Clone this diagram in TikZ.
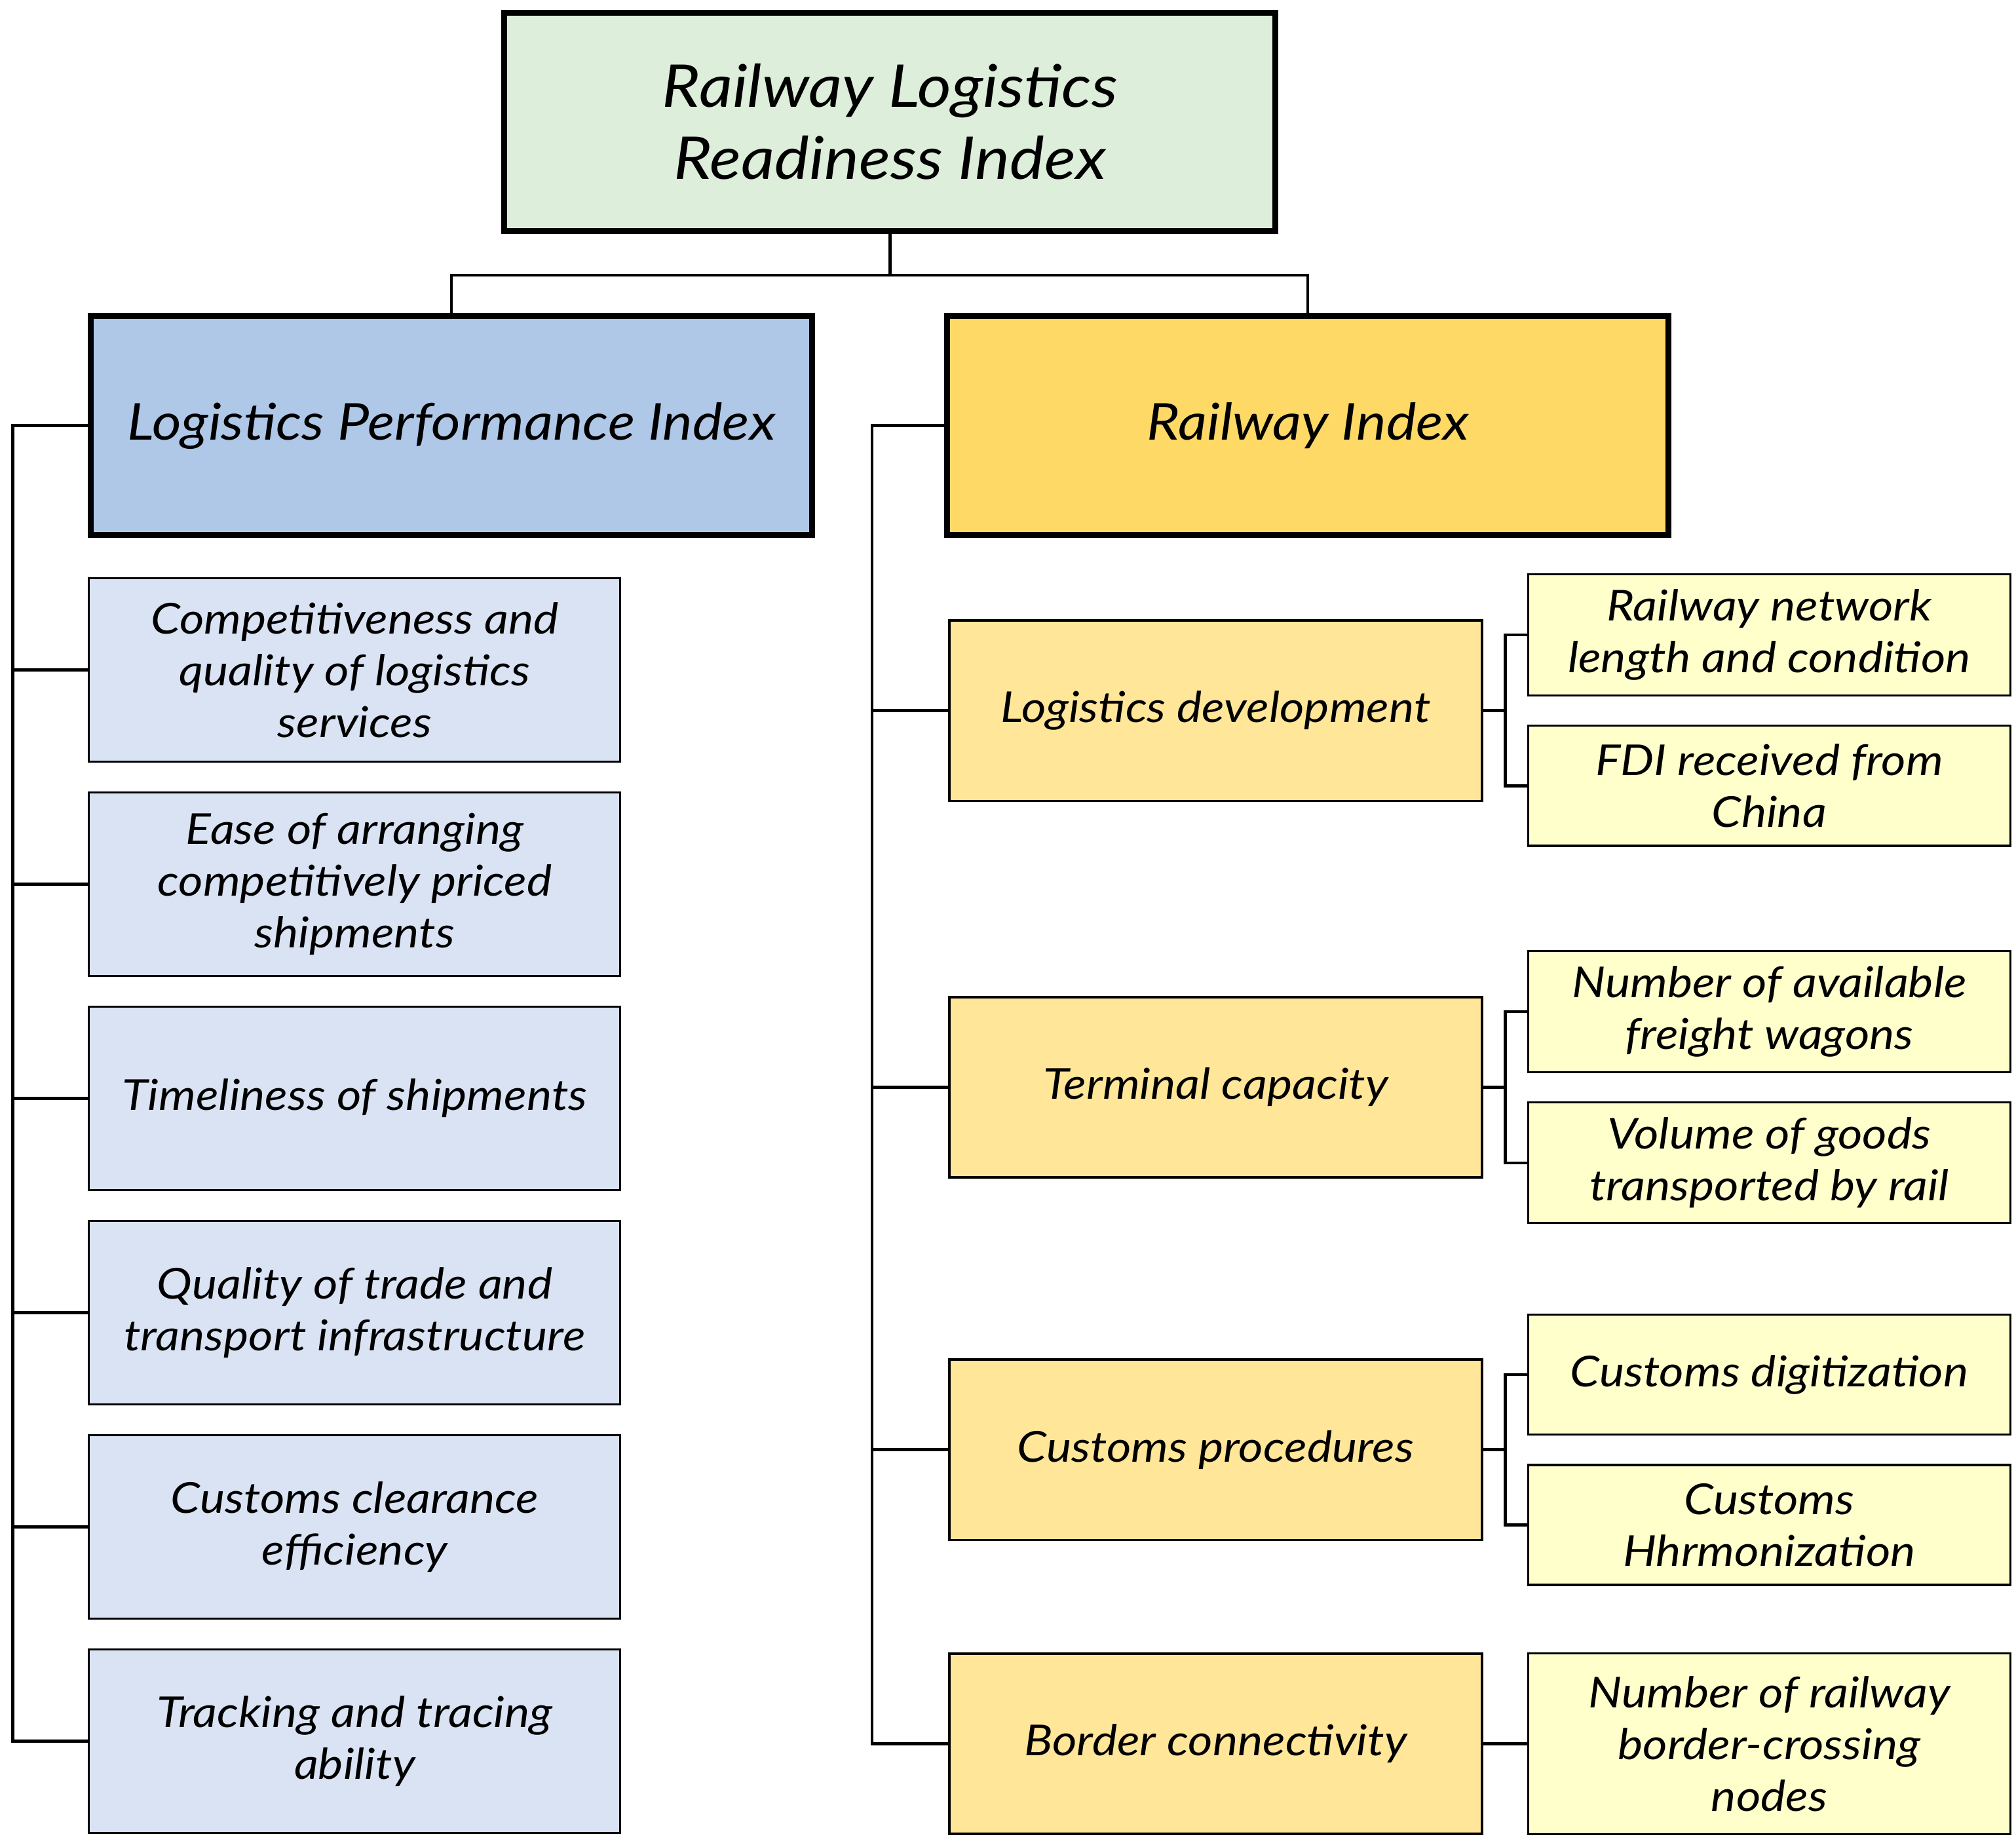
\documentclass[tikz,border=0pt]{standalone}
\usepackage{fontspec}
\setmainfont{Lato}[FakeStretch=1.11]
\usetikzlibrary{positioning,calc}
\definecolor{rootgreen}{RGB}{221,238,218}
\definecolor{lpiblue}{RGB}{176,200,232}
\definecolor{lpilight}{RGB}{218,227,243}
\definecolor{rigold}{RGB}{255,217,102}
\definecolor{rimid}{RGB}{255,230,153}
\definecolor{rileaf}{RGB}{255,255,204}
\tikzset{
tree/.style={line width=0.65pt},
root/.style={draw,line width=1.3pt,fill=rootgreen,align=center,minimum width=5.98cm,minimum height=1.69cm,
font=\fontsize{13.0}{15.9}\selectfont\itshape},
index/.style={draw,line width=1.3pt,align=center,minimum width=5.59cm,minimum height=1.70cm,
font=\fontsize{11.2}{13.5}\selectfont\itshape},
pillar/.style={draw,line width=0.45pt,fill=lpilight,align=center,minimum width=4.12cm,minimum height=1.42cm,
font=\fontsize{9.4}{11.4}\selectfont\itshape},
factor/.style={draw,line width=0.55pt,fill=rimid,align=center,minimum width=4.13cm,minimum height=1.40cm,
font=\fontsize{9.4}{11.4}\selectfont\itshape},
indicator/.style={draw,line width=0.45pt,fill=rileaf,align=center,minimum width=3.74cm,minimum height=0.93cm,
font=\fontsize{9.4}{11.4}\selectfont\itshape}
}

\begin{document}
\begin{tikzpicture}
\useasboundingbox (0,0) rectangle (15.63,-14.30);

\node[root] (rlri) at (6.90,-0.945) {Railway Logistics\\Readiness Index};
\node[index,fill=lpiblue] (lpi) at (3.50,-3.30) {Logistics Performance Index};
\node[index,fill=rigold] (ri) at (10.14,-3.30) {Railway Index};

% LPI pillars
\node[pillar] (p1) at (2.75,-5.195) {Competitiveness and\\quality of logistics\\services};
\node[pillar] (p2) [below=0.225 of p1] {Ease of arranging\\competitively priced\\shipments};
\node[pillar] (p3) [below=0.225 of p2] {Timeliness of shipments};
\node[pillar] (p4) [below=0.225 of p3] {Quality of trade and\\transport infrastructure};
\node[pillar] (p5) [below=0.225 of p4] {Customs clearance\\efficiency};
\node[pillar] (p6) [below=0.225 of p5] {Tracking and tracing\\ability};

% railway factors
\node[factor] (ld) at (9.425,-5.51) {Logistics development};
\node[factor] (tc) at (9.425,-8.43) {Terminal capacity};
\node[factor] (cp) at (9.425,-11.24) {Customs procedures};
\node[factor] (bc) at (9.425,-13.52) {Border connectivity};

% indicators
\node[indicator] (ld1) [above right=0.11 and 0.34 of ld.east] {Railway network\\length and condition};
\node[indicator] (ld2) [below right=0.11 and 0.34 of ld.east] {FDI received from\\China};
\node[indicator] (tc1) [above right=0.11 and 0.34 of tc.east] {Number of available\\freight wagons};
\node[indicator] (tc2) [below right=0.11 and 0.34 of tc.east] {Volume of goods\\transported by rail};
\node[indicator] (cp1) [above right=0.11 and 0.34 of cp.east] {Customs digitization};
\node[indicator] (cp2) [below right=0.11 and 0.34 of cp.east] {Customs\\Hhrmonization};
\node[indicator,minimum height=1.40cm] (bc1) [right=0.34 of bc] {Number of railway\\border-crossing\\nodes};

% connectors
\draw[tree] (rlri.south) -- ++(0,-0.32) -| (lpi.north);
\draw[tree] (rlri.south) -- ++(0,-0.32) -| (ri.north);

\coordinate (lbus) at (0.10,-3.30);
\draw[tree] (lpi.west) -- (lbus) |- (p6.west);
\draw[tree] (p1.west) -- (p1.west -| lbus);
\draw[tree] (p2.west) -- (p2.west -| lbus);
\draw[tree] (p3.west) -- (p3.west -| lbus);
\draw[tree] (p4.west) -- (p4.west -| lbus);
\draw[tree] (p5.west) -- (p5.west -| lbus);

\coordinate (rbus) at (6.76,-3.30);
\draw[tree] (ri.west) -- (rbus) |- (bc.west);
\draw[tree] (ld.west) -- (ld.west -| rbus);
\draw[tree] (tc.west) -- (tc.west -| rbus);
\draw[tree] (cp.west) -- (cp.west -| rbus);

\draw[tree] (ld.east) -- ++(0.17,0) |- (ld1.west);
\draw[tree] (ld.east) -- ++(0.17,0) |- (ld2.west);
\draw[tree] (tc.east) -- ++(0.17,0) |- (tc1.west);
\draw[tree] (tc.east) -- ++(0.17,0) |- (tc2.west);
\draw[tree] (cp.east) -- ++(0.17,0) |- (cp1.west);
\draw[tree] (cp.east) -- ++(0.17,0) |- (cp2.west);
\draw[tree] (bc.east) -- (bc1.west);
\end{tikzpicture}
\end{document}
